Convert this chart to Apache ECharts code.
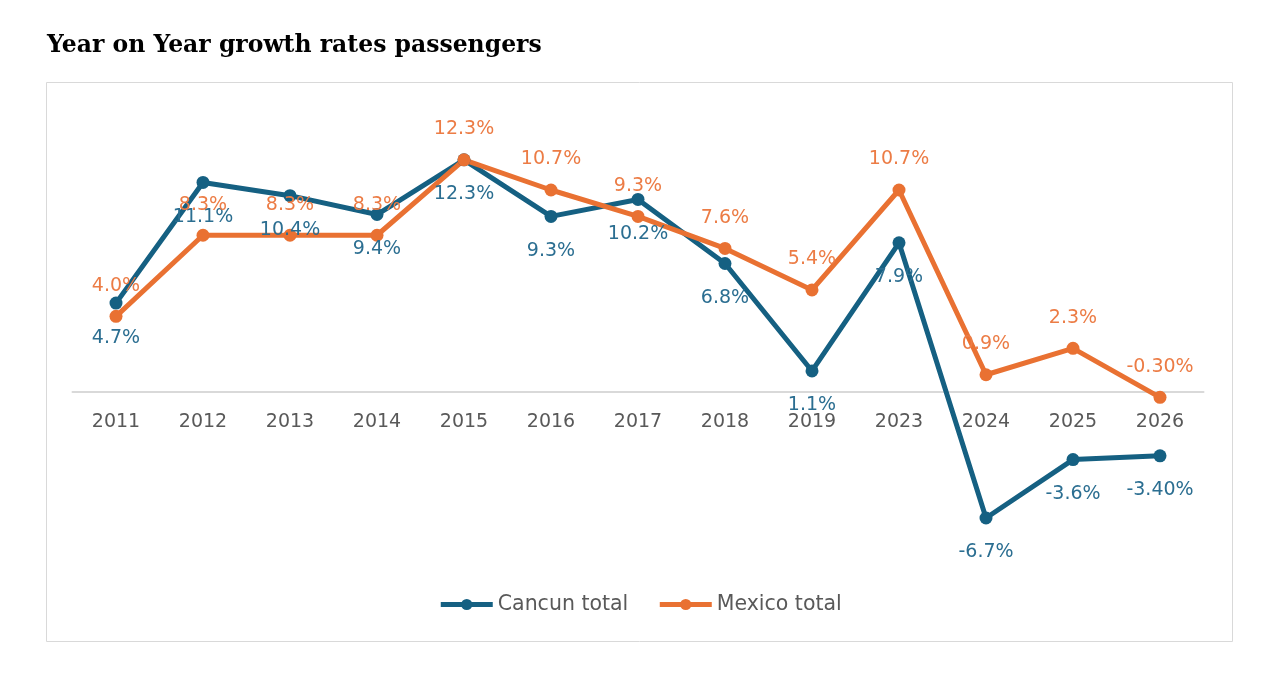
<!DOCTYPE html>
<html>
<head>
<meta charset="utf-8">
<script src="https://cdn.jsdelivr.net/npm/echarts@6/dist/echarts.min.js"></script>
<style>
html,body{margin:0;padding:0;background:#fff;}
#chart{width:1280px;height:675px;}
</style>
</head>
<body>
<div id="chart"></div>
<script>
var categories = ['2011','2012','2013','2014','2015','2016','2017','2018','2019','2023','2024','2025','2026'];
var cancunValues = [4.7, 11.1, 10.4, 9.4, 12.3, 9.3, 10.2, 6.8, 1.1, 7.9, -6.7, -3.6, -3.4];
var mexicoValues = [4.0, 8.3, 8.3, 8.3, 12.3, 10.7, 9.3, 7.6, 5.4, 10.7, 0.9, 2.3, -0.3];
var cancunLabels = ['4.7%','11.1%','10.4%','9.4%','12.3%','9.3%','10.2%','6.8%','1.1%','7.9%','-6.7%','-3.6%','-3.40%'];
var mexicoLabels = ['4.0%','8.3%','8.3%','8.3%','12.3%','10.7%','9.3%','7.6%','5.4%','10.7%','0.9%','2.3%','-0.30%'];
var seriesNames = ['Cancun total', 'Mexico total'];

var FONT = "'DejaVu Sans', sans-serif";
var chart = echarts.init(document.getElementById('chart'), null, {renderer: 'canvas'});
chart.setOption({
  backgroundColor: '#ffffff',
  animation: false,
  title: {
    text: 'Year on Year growth rates passengers',
    left: 42, top: 29,
    textStyle: {fontFamily: "'DejaVu Serif', serif", fontWeight: 'bold', fontSize: 23.5, color: '#000000'}
  },
  graphic: [{
    type: 'rect', left: 46, top: 82, z: -10,
    shape: {width: 1186, height: 559},
    style: {fill: '#ffffff', stroke: '#d9d9d9', lineWidth: 1}
  }],
  legend: {
    data: seriesNames,
    left: 'center', top: 589,
    itemWidth: 52, itemHeight: 14, itemGap: 29,
    lineStyle: {width: 5},
    textStyle: {fontFamily: FONT, fontSize: 20.5, color: '#595959'}
  },
  grid: [
    {left: 72.5, right: 76.5, top: 127.8, bottom: 132.5, containLabel: false},
    {left: 72.5, right: 76.5, top: 127.8, height: 263.9, containLabel: false}
  ],
  xAxis: [{
    type: 'category', data: categories, boundaryGap: true, gridIndex: 0, show: false
  }, {
    type: 'category', data: categories, boundaryGap: true, gridIndex: 1,
    axisLine: {show: true, onZero: false, lineStyle: {color: '#d9d9d9', width: 2}},
    axisTick: {show: false},
    splitLine: {show: false},
    axisLabel: {margin: 21, fontFamily: FONT, fontSize: 19, color: '#595959'}
  }],
  yAxis: [{
    type: 'value', min: -8, max: 14, show: false, gridIndex: 0, splitLine: {show: false}
  }, {
    type: 'value', min: 0, max: 14, show: false, gridIndex: 1, splitLine: {show: false}
  }],
  series: [{
    name: seriesNames[0], type: 'line', data: cancunValues,
    xAxisIndex: 0, yAxisIndex: 0,
    symbol: 'circle', symbolSize: 13,
    lineStyle: {width: 5, color: '#156082'},
    itemStyle: {color: '#156082'},
    label: {
      show: true, position: 'bottom', distance: 18.5,
      fontFamily: FONT, fontSize: 19, color: '#2B6E91',
      formatter: function (p) { return cancunLabels[p.dataIndex]; }
    }
  }, {
    name: seriesNames[1], type: 'line', data: mexicoValues,
    xAxisIndex: 0, yAxisIndex: 0,
    symbol: 'circle', symbolSize: 13,
    lineStyle: {width: 5, color: '#E97132'},
    itemStyle: {color: '#E97132'},
    label: {
      show: true, position: 'top', distance: 14.5,
      fontFamily: FONT, fontSize: 19, color: '#EC7C45',
      formatter: function (p) { return mexicoLabels[p.dataIndex]; }
    }
  }]
});
</script>
</body>
</html>
